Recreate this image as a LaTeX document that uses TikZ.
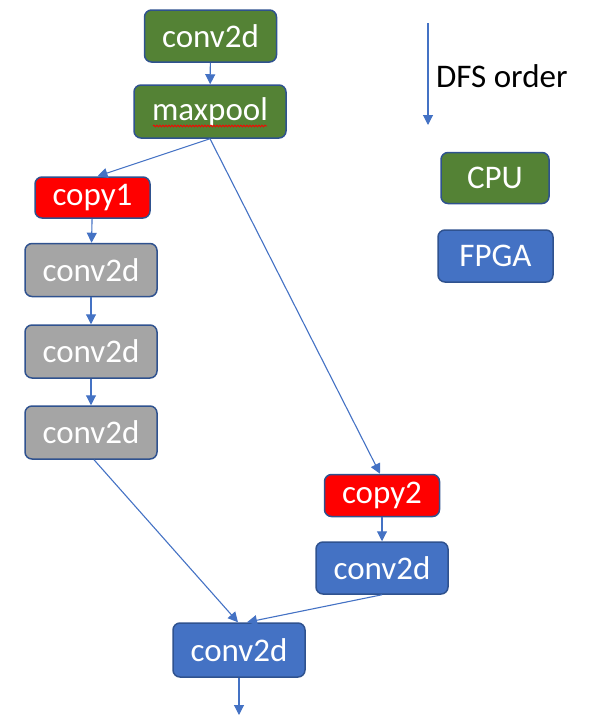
\documentclass[tikz,border=0pt]{standalone}
\usepackage{fontspec}
\setmainfont{Carlito}
\usetikzlibrary{arrows.meta,decorations.pathmorphing}
\definecolor{cpugreen}{HTML}{548235}
\definecolor{fpgablue}{HTML}{4472C4}
\definecolor{edgeblue}{HTML}{2F528F}
\definecolor{copyred}{HTML}{FF0000}
\definecolor{idlegray}{HTML}{A5A5A5}
\tikzset{
  opbox/.style={draw=edgeblue, line width=1.5pt, rounded corners=7pt,
    text=white, inner sep=0pt, font=\fontsize{33}{33}\selectfont,
    minimum width=132pt, minimum height=53pt},
  cpubox/.style={opbox, fill=cpugreen},
  fpgabox/.style={opbox, fill=fpgablue},
  copybox/.style={opbox, fill=copyred, minimum width=115pt, minimum height=41pt},
  graybox/.style={opbox, fill=idlegray},
  flow/.style={draw=fpgablue, line width=1.1pt, -{Triangle[length=10pt,width=10pt]}}
}
\begin{document}
\begin{tikzpicture}[x=1pt,y=-1pt]
\useasboundingbox (0,0) rectangle (595,715);

% operator graph
\node[cpubox, minimum height=52pt] (c1) at (210.5,36) {conv2d};
\node[cpubox, minimum width=152pt] (mp) at (210,111.5) {maxpool};
\node[copybox] (cp1) at (92.5,197.5) {copy1};
\node[graybox] (g1) at (91,270) {conv2d};
\node[graybox] (g2) at (91,351.5) {conv2d};
\node[graybox] (g3) at (91,432.5) {conv2d};
\node[copybox, minimum height=42pt] (cp2) at (382,495.5) {copy2};
\node[fpgabox, minimum height=52pt] (b1) at (382,568) {conv2d};
\node[fpgabox, minimum height=54pt] (b2) at (239,650) {conv2d};
\coordinate (out) at (239,715);

% spell-check squiggle under maxpool
\draw[copyred, line width=0.8pt, decorate,
  decoration={snake, amplitude=0.9pt, segment length=3pt}]
  (153,126) -- (267,126);

% connectors
\draw[flow] (c1) -- (mp);
\draw[flow] (mp.south) -- ([xshift=5pt]cp1.north);
\draw[flow] (mp.south) -- ([xshift=-2pt]cp2.north);
\draw[flow] (cp1) -- (g1);
\draw[flow] (g1) -- (g2);
\draw[flow] (g2) -- (g3);
\draw[flow] ([xshift=3pt]g3.south) -- ([xshift=-1pt]b2.north);
\draw[flow] (cp2) -- (b1);
\draw[flow] (b1.south) -- ([xshift=8pt]b2.north);
\draw[flow] (b2.south) -- (out);

% legend
\coordinate (dfsa) at (428,23);
\coordinate (dfsb) at (428,125);
\draw[flow] (dfsa) -- (dfsb);
\node[anchor=west, inner sep=0pt, font=\fontsize{33}{33}\selectfont] (dfs) at (436,76) {DFS order};
\node[cpubox, minimum width=108pt, minimum height=51pt] (cpu) at (495,178) {CPU};
\node[fpgabox, minimum width=115pt, minimum height=52pt] (fpga) at (495.5,256) {FPGA};
\end{tikzpicture}
\end{document}
